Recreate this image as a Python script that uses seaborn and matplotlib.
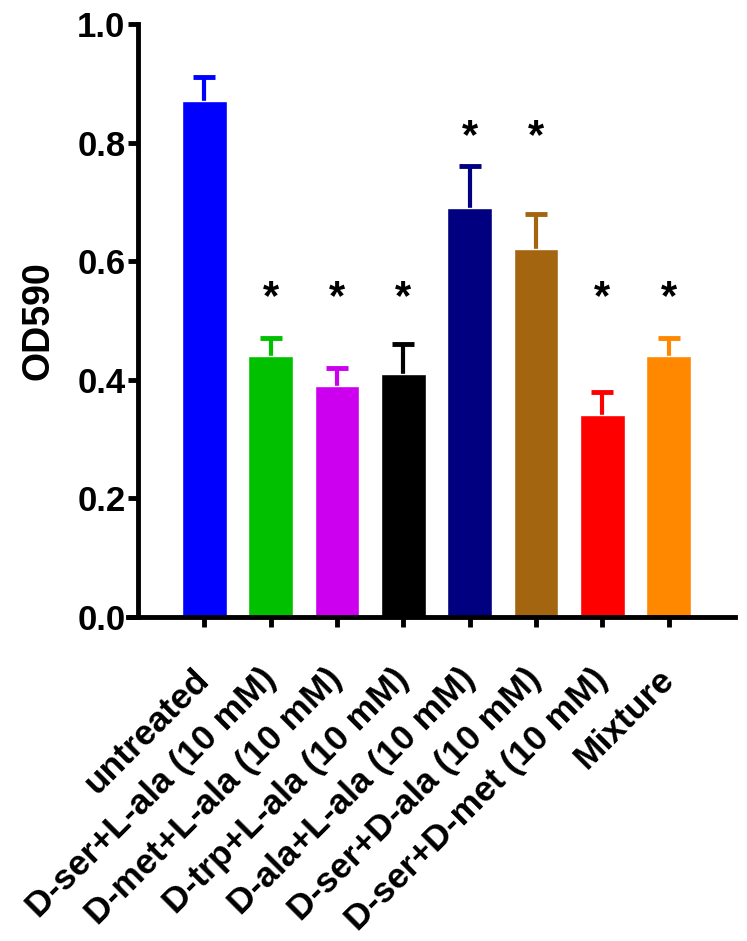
import matplotlib
matplotlib.use("Agg")
import matplotlib.pyplot as plt
import matplotlib.transforms as mtransforms
import seaborn as sns
import pandas as pd

# values
groups = ["untreated", "D-ser+L-ala (10 mM)", "D-met+L-ala (10 mM)",
          "D-trp+L-ala (10 mM)", "D-ala+L-ala (10 mM)", "D-ser+D-ala (10 mM)",
          "D-ser+D-met (10 mM)", "Mixture"]
od590 = [0.87, 0.44, 0.39, 0.41, 0.69, 0.62, 0.34, 0.44]
sem = [0.04, 0.03, 0.03, 0.05, 0.07, 0.06, 0.04, 0.03]
star_y = [None, 0.52, 0.52, 0.52, 0.79, 0.79, 0.52, 0.52]
colors = ["#0000FF", "#00C000", "#CC00EE", "#000000",
          "#000080", "#A3650F", "#FF0000", "#FF8800"]
y_ticks = [0.0, 0.2, 0.4, 0.6, 0.8, 1.0]

sns.set_theme(style="ticks", rc={"text.color": "black", "axes.labelcolor": "black",
                                 "xtick.color": "black", "ytick.color": "black",
                                 "axes.edgecolor": "black"})
plt.rcParams["font.family"] = ["Liberation Sans", "DejaVu Sans"]
plt.rcParams["font.weight"] = "bold"

df = pd.DataFrame({"group": groups, "od": od590})

fig = plt.figure(figsize=(7.47, 9.41), dpi=100)
ax = fig.add_axes([0.1847, 0.3443, 0.7993, 0.6302])

sns.barplot(data=df, x="group", y="od", hue="group", palette=colors,
            order=groups, width=0.67, legend=False, ax=ax, saturation=1,
            zorder=2)

# error bars sit behind the bars so only the upper half shows
for i, (v, e, c) in enumerate(zip(od590, sem, colors)):
    ax.errorbar(i, v, yerr=e, color=c, lw=3, capsize=8,
                capthick=3.5, zorder=1)

for i, s in enumerate(star_y):
    if s is None:
        continue
    ax.text(i, s, "*", ha="center", va="baseline", fontsize=30,
            fontweight="bold", color="black")

ax.set_xlim(-1, 8)
ax.set_ylim(0, 1.0)
ax.set_yticks(y_ticks)
ax.set_yticklabels([f"{t:.1f}" for t in y_ticks], fontsize=25, fontweight="bold")
ax.set_xticks(range(len(groups)))
ax.set_xticklabels(groups, rotation=45, ha="right", va="center",
                   rotation_mode="anchor", fontsize=25.5, fontweight="bold")
shift = mtransforms.ScaledTranslation(6 / 100, 0, fig.dpi_scale_trans)
for lab in ax.get_xticklabels():
    lab.set_transform(lab.get_transform() + shift)
ax.set_xlabel("")
ax.set_ylabel("OD590", fontsize=27, fontweight="bold", labelpad=15)

sns.despine(ax=ax)
for side in ["left", "bottom"]:
    ax.spines[side].set_linewidth(3.5)
ax.spines["bottom"].set_bounds(-1.15, 8)
ax.tick_params(axis="y", length=7, width=3.5, pad=2)
ax.tick_params(axis="x", length=7, width=3.5, pad=34)

fig.savefig("out.png", dpi=100)
